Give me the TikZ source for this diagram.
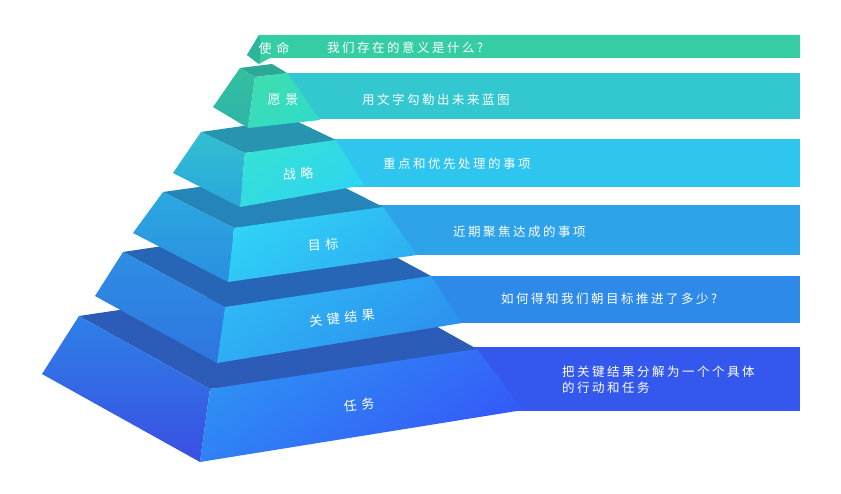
\documentclass[tikz,border=0pt]{standalone}
\usepackage{fontspec}
\newfontfamily\labfont[LetterSpace=35]{Noto Sans CJK SC}
\newfontfamily\barfont[LetterSpace=20]{Noto Sans CJK SC}
\definecolor{barA}{HTML}{36CDA4}
\definecolor{barB}{HTML}{33C7CF}
\definecolor{barC}{HTML}{2EC5EE}
\definecolor{barD}{HTML}{2EA3EA}
\definecolor{barE}{HTML}{2E8AE8}
\definecolor{barF}{HTML}{3458EE}
% level faces
\definecolor{oneL}{HTML}{2DB59A}
\definecolor{twoT}{HTML}{2CA896}
\definecolor{twoLa}{HTML}{34BFA0}\definecolor{twoLb}{HTML}{2DB4A8}
\definecolor{twoFa}{HTML}{3DDDB0}\definecolor{twoFb}{HTML}{30DCC8}
\definecolor{thrT}{HTML}{2795B0}
\definecolor{thrLa}{HTML}{31C0CF}\definecolor{thrLb}{HTML}{2BA6DD}
\definecolor{thrFa}{HTML}{35E0D5}\definecolor{thrFb}{HTML}{2ED5F2}
\definecolor{fouT}{HTML}{2585B8}
\definecolor{fouLa}{HTML}{2CA8E0}\definecolor{fouLb}{HTML}{2A8FE0}
\definecolor{fouFa}{HTML}{2FD2F6}\definecolor{fouFb}{HTML}{2EAFF2}
\definecolor{fivT}{HTML}{2766B7}
\definecolor{fivLa}{HTML}{2E8EE3}\definecolor{fivLb}{HTML}{2E75E0}
\definecolor{fivFa}{HTML}{2FB8F6}\definecolor{fivFb}{HTML}{2C90EE}
\definecolor{sixT}{HTML}{2D5CB8}
\definecolor{sixLa}{HTML}{2E80E8}\definecolor{sixLb}{HTML}{3A4FE2}
\definecolor{sixFa}{HTML}{2E90F4}\definecolor{sixFb}{HTML}{3558F8}
\begin{document}
\begin{tikzpicture}[x=1pt,y=-1pt,
  lab/.style={text=white,font=\labfont\fontsize{13}{13}\selectfont,inner sep=0pt},
  bartext/.style={text=white,font=\barfont\fontsize{12.5}{16}\selectfont,inner sep=0pt,anchor=west,align=left},
  ]
\useasboundingbox[fill=white] (0,0) rectangle (841,494);

% ---------- bars (behind the pyramid)
\fill[barA] (259,35) -- (800,35) -- (800,58) -- (270,58) -- (259,64) -- (247,55) -- cycle;
\fill[barB] (270,73) rectangle (800,119);
\fill[barC] (250,139) rectangle (800,187);
\fill[barD] (240,205) rectangle (800,255);
\fill[barE] (230,276) rectangle (800,323);
\fill[barF] (215,347) rectangle (800,411);

% ---------- level 6
\fill[sixT] (79,316) -- (210,389) -- (477,349) -- (346,276) -- cycle;
\shade[top color=sixLa,bottom color=sixLb] (79,316) -- (42,374) -- (200,462) -- (210,389) -- cycle;
\shade[top color=sixFa,bottom color=sixFb,shading angle=35] (210,389) -- (477,349) -- (523,410) -- (200,462) -- cycle;
% ---------- level 5
\fill[fivT] (123,252) -- (225,307) -- (431,276) -- (329,221) -- cycle;
\shade[top color=fivLa,bottom color=fivLb] (123,252) -- (95,296) -- (217,363) -- (225,307) -- cycle;
\shade[top color=fivFa,bottom color=fivFb,shading angle=35] (225,307) -- (431,276) -- (462,323) -- (217,363) -- cycle;
% ---------- level 4
\fill[fouT] (163,192) -- (234,228) -- (383,207) -- (312,171) -- cycle;
\shade[top color=fouLa,bottom color=fouLb] (163,192) -- (133,233) -- (228,282) -- (234,228) -- cycle;
\shade[top color=fouFa,bottom color=fouFb,shading angle=35] (234,228) -- (383,207) -- (417,255) -- (228,282) -- cycle;
% ---------- level 3
\fill[thrT] (201,132) -- (245,153) -- (336,140) -- (292,119) -- cycle;
\shade[top color=thrLa,bottom color=thrLb] (201,132) -- (173,173) -- (240,207) -- (245,153) -- cycle;
\shade[top color=thrFa,bottom color=thrFb,shading angle=35] (245,153) -- (336,140) -- (364,185) -- (240,207) -- cycle;
% ---------- level 2
\fill[twoT] (240,68) -- (255,77) -- (287,73) -- (272,64) -- cycle;
\shade[top color=twoLa,bottom color=twoLb] (240,68) -- (213,107) -- (248,128) -- (255,77) -- cycle;
\shade[top color=twoFa,bottom color=twoFb,shading angle=35] (255,77) -- (287,73) -- (320,120) -- (248,128) -- cycle;
% ---------- level 1 (tip)
\fill[oneL] (259,35) -- (247,55) -- (259,64) -- (262,46) -- cycle;

% ---------- labels on the pyramid
\node[lab] (l1) at (274,49) {使命};
\node[lab] (l2) at (283,100) {愿景};
\node[lab,rotate=3] (l3) at (298,174) {战略};
\node[lab,rotate=3] (l4) at (323,245) {目标};
\node[lab,rotate=6] (l5) at (342,318) {关键结果};
\node[lab,rotate=6] (l6) at (359,405) {任务};

% ---------- texts on the bars
\node[bartext] (t1) at (327,48) {我们存在的意义是什么?};
\node[bartext] (t2) at (362,100) {用文字勾勒出未来蓝图};
\node[bartext] (t3) at (383,164) {重点和优先处理的事项};
\node[bartext] (t4) at (453,232) {近期聚焦达成的事项};
\node[bartext] (t5) at (501,299) {如何得知我们朝目标推进了多少?};
\node[bartext] (t6) at (562,380) {把关键结果分解为一个个具体\\的行动和任务};
\end{tikzpicture}
\end{document}
